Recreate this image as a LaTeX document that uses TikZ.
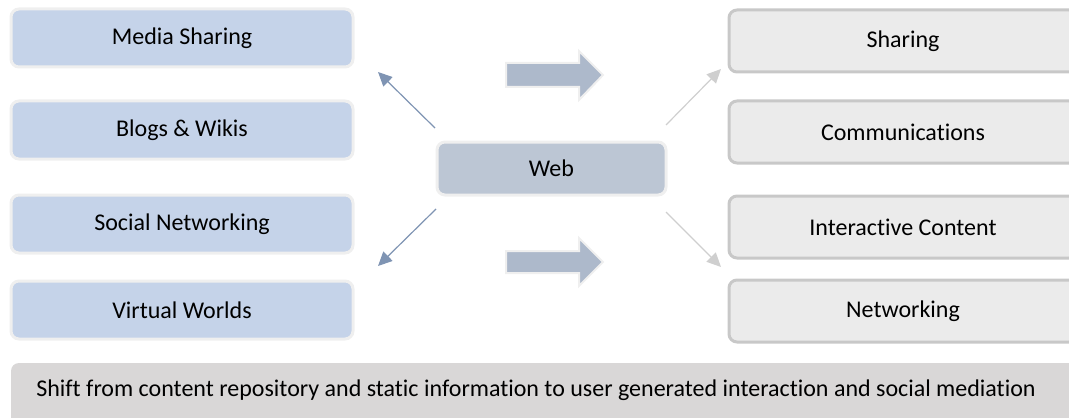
\documentclass[tikz,border=0pt]{standalone}
\usepackage{fontspec}
\setmainfont{Carlito}[Ligatures={NoCommon}]
\usetikzlibrary{arrows.meta,calc}
\definecolor{leftfill}{HTML}{C5D3E9}
\definecolor{leftborder}{HTML}{EFEFEF}
\definecolor{webfill}{HTML}{BCC6D4}
\definecolor{blockfill}{HTML}{ADB9CB}
\definecolor{thinleft}{HTML}{7F94B3}
\definecolor{thinright}{HTML}{CFCFCF}
\definecolor{rightfill}{HTML}{EBEBEB}
\definecolor{rightborder}{HTML}{C8C8C8}
\definecolor{bannerfill}{HTML}{D9D7D7}
\tikzset{
  txt/.style={font=\fontsize{12}{14}\selectfont},
  leftbox/.style={txt, draw=leftborder, line width=1.5pt, fill=leftfill, rounded corners=4pt,
    minimum width=171pt, minimum height=29pt, inner sep=0pt},
  rightbox/.style={txt, draw=rightborder, line width=1.5pt, fill=rightfill, rounded corners=4pt,
    minimum width=174pt, minimum height=31pt, inner sep=0pt},
  webbox/.style={txt, draw=leftborder, line width=1.5pt, fill=webfill, rounded corners=4pt,
    minimum width=114.5pt, minimum height=26.5pt, inner sep=0pt},
  blockarrow/.style={draw=leftborder, line width=1pt, fill=blockfill},
  thinl/.style={draw=thinleft, line width=0.6pt, -{Triangle[length=7pt,width=6.5pt]}},
  thinr/.style={draw=thinright, line width=0.6pt, -{Triangle[length=7pt,width=6.5pt]}},
}
\begin{document}
\begin{tikzpicture}[x=0.5pt,y=-0.5pt]
\useasboundingbox (0,0) rectangle (1069,417);
\clip (0,0) rectangle (1069,417);
% left boxes
\node[leftbox] (media) at (182,38) {Media Sharing};
\node[leftbox] (blogs) at (182,130) {Blogs \& Wikis};
\node[leftbox] (social) at (182,224) {Social Networking};
\node[leftbox] (virtual) at (182,310) {Virtual Worlds};
% right boxes
\node[rightbox] (sharing) at (903,41) {Sharing};
\node[rightbox] (comm) at (903,132) {Communications};
\node[rightbox] (inter) at (903,227) {Interactive Content};
\node[rightbox] (netw) at (903,311) {Networking};
% web
\node[webbox] (web) at (551.5,168.5) {Web};
% banner
\fill[bannerfill, rounded corners=4pt] (11,363) rectangle (1100,440);
\node[txt, inner sep=0pt] (bannertext) at (536,390) {Shift from content repository and static information to user generated interaction and social mediation};
% block arrows
\draw[blockarrow] (506,63) -- (579,63) -- (579,51) -- (603,75) -- (579,100) -- (579,87) -- (506,87) -- cycle;
\draw[blockarrow] (506,251) -- (579,251) -- (579,238) -- (603,262) -- (579,286) -- (579,273) -- (506,273) -- cycle;
% thin arrows
\coordinate (tl1) at (435,128);
\coordinate (tl2) at (378,72);
\coordinate (bl1) at (436,209);
\coordinate (bl2) at (378,266);
\coordinate (tr1) at (666,125);
\coordinate (tr2) at (721,69);
\coordinate (br1) at (666,212);
\coordinate (br2) at (721,267);
\draw[thinl] (tl1) -- (tl2);
\draw[thinl] (bl1) -- (bl2);
\draw[thinr] (tr1) -- (tr2);
\draw[thinr] (br1) -- (br2);
\end{tikzpicture}
\end{document}
